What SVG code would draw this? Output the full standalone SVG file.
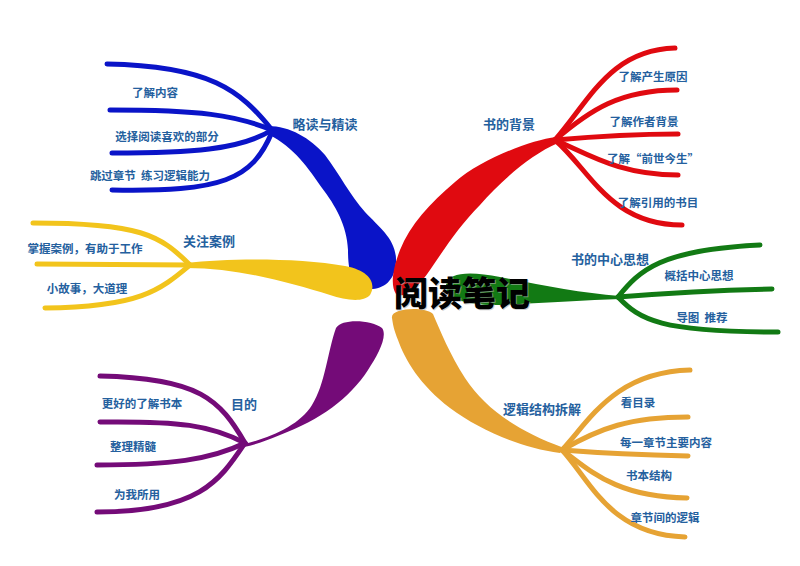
<svg xmlns="http://www.w3.org/2000/svg" width="800" height="566" viewBox="0 0 800 566">
<style>
.lbl{font-family:"Noto Sans CJK SC","Noto Sans",sans-serif;font-weight:bold;font-size:11.5px;fill:#24609e;text-anchor:middle;dominant-baseline:central;white-space:pre}
.main{font-size:13px}
.sub{fill:none;stroke-width:5;stroke-linecap:round}
.b{stroke:#0a14c8}.r{stroke:#e00a10}.y{stroke:#f2c41c}.g{stroke:#127a14}.p{stroke:#740b78}.o{stroke:#e6a334}
.title{font-family:"Noto Sans CJK SC",sans-serif;font-weight:900;font-size:34px;fill:#000;text-anchor:middle;dominant-baseline:central}
.shadow{fill:#b0b0b0;opacity:0.6}
</style>
<rect width="800" height="566" fill="#fff"/>
<g id="connectors">
  <path class="sub b" d="M272,130 C 240,90 210,66 107,64"/>
  <path class="sub b" d="M272,130 C 235,115 200,110 110,110"/>
  <path class="sub b" d="M272,130 C 240,150 190,153 112,153"/>
  <path class="sub b" d="M272,132 C 252,180 222,192 112,190"/>
  <path fill="#0a14c8" d="M268,126 C 290,126 310,138 325,155 C 340,175 350,195 365,212 C 380,228 397,240 396,262 C 395,282 382,290 368,289 C 352,288 348,272 348,250 C 347,225 335,205 322,188 C 308,168 295,148 268,134 Z"/>
  <path class="sub r" d="M555,140 C 590,100 610,50 675,48"/>
  <path class="sub r" d="M555,140 C 590,110 620,90 677,90"/>
  <path class="sub r" d="M555,140 C 600,136 640,134 678,134"/>
  <path class="sub r" d="M555,140 C 590,155 620,175 678,175"/>
  <path class="sub r" d="M555,140 C 590,170 610,225 682,225"/>
  <path fill="#e00a10" d="M556,137 C 530,140 480,160 455,182 C 430,203 410,225 400,250 C 393,268 390,285 396,294 C 405,300 420,285 430,270 C 445,248 460,225 480,205 C 500,182 530,155 558,143 Z"/>
  <path class="sub y" d="M190,265 C 160,235 140,223 33,223"/>
  <path class="sub y" d="M190,265 C 150,265 100,264 37,264"/>
  <path class="sub y" d="M190,265 C 160,290 140,307 45,308"/>
  <path fill="#f2c41c" d="M186,263 C 230,258 300,258 345,266 C 372,271 376,285 370,295 C 363,303 345,300 330,295 C 290,283 240,268 186,268 Z"/>
  <path class="sub g" d="M618,297 C 640,270 660,250 760,245"/>
  <path class="sub g" d="M618,297 C 680,292 720,290 772,289"/>
  <path class="sub g" d="M618,297 C 640,320 660,332 778,332"/>
  <path fill="#127a14" d="M620,296 C 580,293 540,285 500,277 C 470,271 448,272 446,285 C 445,300 470,306 500,305 C 545,303 585,300 620,299 Z"/>
  <path class="sub p" d="M245,443 C 220,400 200,378 100,376"/>
  <path class="sub p" d="M245,443 C 210,425 180,421 100,422"/>
  <path class="sub p" d="M245,443 C 210,460 170,465 97,465"/>
  <path class="sub p" d="M245,443 C 220,480 200,512 97,512"/>
  <path fill="#740b78" d="M244,444 C 270,438 300,425 312,405 C 325,385 328,350 336,328 C 342,318 372,320 382,328 C 388,336 378,355 368,370 C 350,398 320,420 280,435 C 265,441 255,445 244,447 Z"/>
  <path class="sub o" d="M562,450 C 590,420 615,372 690,370"/>
  <path class="sub o" d="M562,450 C 600,428 630,417 688,417"/>
  <path class="sub o" d="M562,450 C 600,453 640,455 688,456"/>
  <path class="sub o" d="M562,450 C 590,470 615,497 687,498"/>
  <path class="sub o" d="M562,450 C 590,480 610,535 685,537"/>
  <path fill="#e6a334" d="M392,318 C 390,308 425,306 433,314 C 440,330 450,355 465,378 C 485,408 515,430 564,448 L 560,453 C 520,448 480,430 450,408 C 420,385 405,360 398,340 C 394,330 393,325 392,318 Z"/>
</g>
<g id="center">
  <text class="title shadow" x="463" y="292">阅读笔记</text>
  <text class="title" x="462" y="291">阅读笔记</text>
</g>
<g id="n-lue">
  <text class="lbl main" x="325" y="123">略读与精读</text>
  <text class="lbl" x="155" y="92">了解内容</text>
  <text class="lbl" x="167" y="136">选择阅读喜欢的部分</text>
  <text class="lbl" x="150" y="175" xml:space="preserve">跳过章节  练习逻辑能力</text>
</g>
<g id="n-bg">
  <text class="lbl main" x="509" y="123">书的背景</text>
  <text class="lbl" x="653" y="76">了解产生原因</text>
  <text class="lbl" x="644" y="121">了解作者背景</text>
  <text class="lbl" x="653" y="158">了解“前世今生”</text>
  <text class="lbl" x="658" y="202">了解引用的书目</text>
</g>
<g id="n-case">
  <text class="lbl main" x="209" y="240">关注案例</text>
  <text class="lbl" x="85" y="248">掌握案例，有助于工作</text>
  <text class="lbl" x="87" y="288">小故事，大道理</text>
</g>
<g id="n-center">
  <text class="lbl main" x="610" y="258">书的中心思想</text>
  <text class="lbl" x="699" y="275">概括中心思想</text>
  <text class="lbl" x="702" y="317" xml:space="preserve">导图  推荐</text>
</g>
<g id="n-aim">
  <text class="lbl main" x="244" y="403">目的</text>
  <text class="lbl" x="142" y="403">更好的了解书本</text>
  <text class="lbl" x="133" y="446">整理精髓</text>
  <text class="lbl" x="137" y="494">为我所用</text>
</g>
<g id="n-logic">
  <text class="lbl main" x="542" y="408">逻辑结构拆解</text>
  <text class="lbl" x="638" y="402">看目录</text>
  <text class="lbl" x="666" y="442">每一章节主要内容</text>
  <text class="lbl" x="649" y="475">书本结构</text>
  <text class="lbl" x="665" y="517">章节间的逻辑</text>
</g>
</svg>
